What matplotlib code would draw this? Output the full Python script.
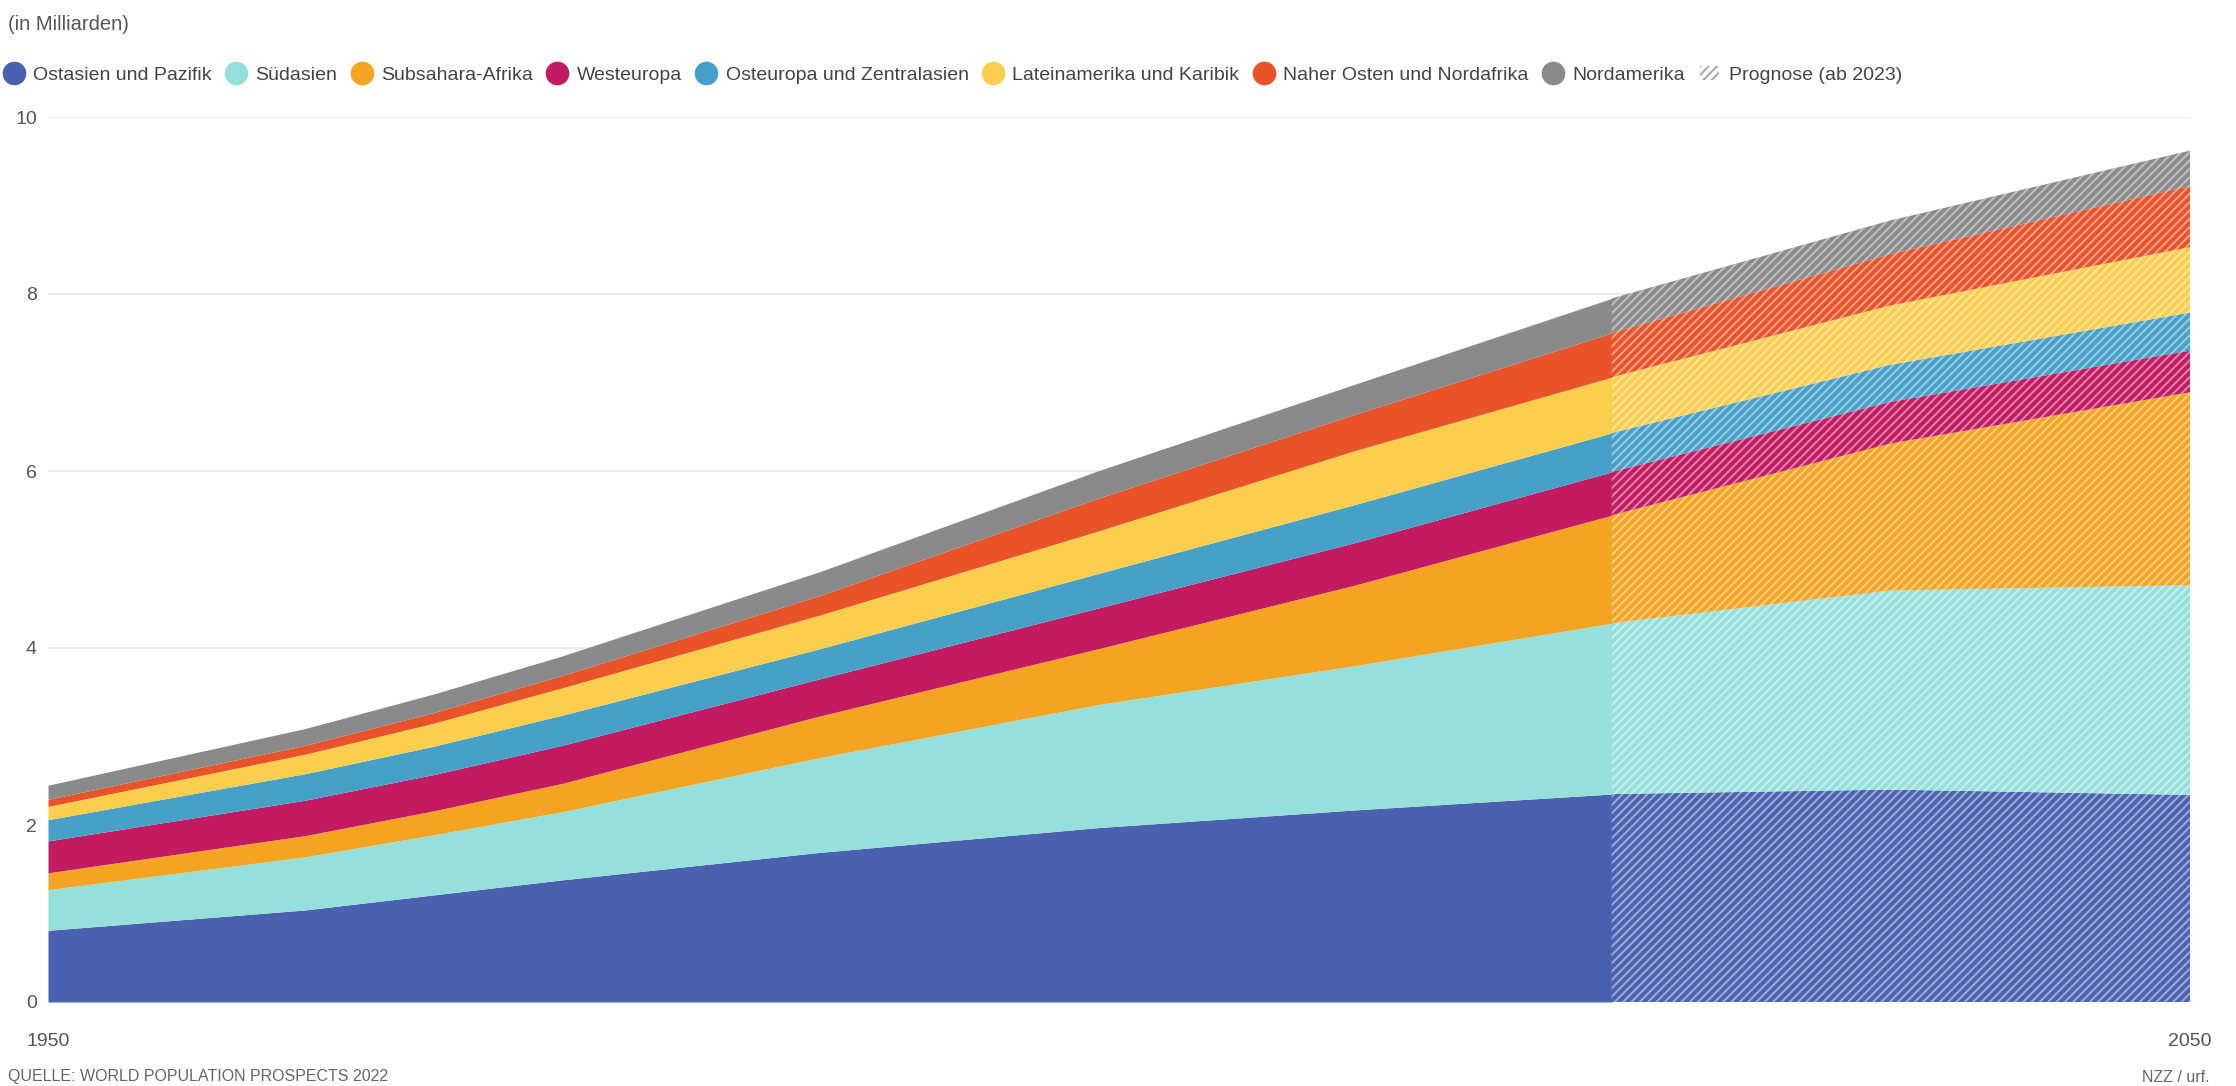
import numpy as np
import matplotlib.pyplot as plt
from matplotlib.lines import Line2D
from matplotlib.patches import Patch

plt.rcParams['font.family'] = ['Liberation Sans Narrow', 'Liberation Sans', 'DejaVu Sans']
plt.rcParams['hatch.linewidth'] = 1.5

# Bevölkerung nach Region, in Milliarden
years = [1950, 1962, 1968, 1974, 1986, 1999, 2011, 2023, 2036, 2050]
ostasien = [0.81, 1.04, 1.21, 1.38, 1.69, 1.97, 2.17, 2.35, 2.40, 2.34]
suedasien = [0.46, 0.60, 0.68, 0.77, 1.07, 1.39, 1.63, 1.93, 2.25, 2.37]
subsahara = [0.19, 0.24, 0.27, 0.32, 0.47, 0.63, 0.91, 1.22, 1.66, 2.18]
westeuropa = [0.36, 0.40, 0.41, 0.43, 0.42, 0.46, 0.48, 0.49, 0.47, 0.47]
osteuropa = [0.24, 0.30, 0.32, 0.34, 0.34, 0.39, 0.43, 0.44, 0.42, 0.43]
lateinamerika = [0.15, 0.22, 0.26, 0.31, 0.38, 0.48, 0.61, 0.63, 0.67, 0.74]
naher_osten = [0.08, 0.10, 0.12, 0.14, 0.22, 0.37, 0.41, 0.50, 0.58, 0.69]
nordamerika = [0.16, 0.19, 0.21, 0.22, 0.27, 0.31, 0.34, 0.39, 0.38, 0.40]

labels = ['Ostasien und Pazifik', 'Südasien', 'Subsahara-Afrika', 'Westeuropa',
          'Osteuropa und Zentralasien', 'Lateinamerika und Karibik',
          'Naher Osten und Nordafrika', 'Nordamerika']
colors = ['#4a61b0', '#96e0dc', '#f2a422', '#c21b62',
          '#47a0c8', '#fbcf4d', '#e9532a', '#8a8a8a']
forecast_start = 2023

series = np.array([ostasien, suedasien, subsahara, westeuropa,
                   osteuropa, lateinamerika, naher_osten, nordamerika])
x = np.array(years)
tops = np.cumsum(series, axis=0)
bottoms = np.vstack([np.zeros(len(x)), tops[:-1]])

fig = plt.figure(figsize=(22.36, 10.86), dpi=100)
ax = fig.add_axes([48 / 2236, 84 / 1086, 2142 / 2236, 885 / 1086])

past = x <= forecast_start
future = x >= forecast_start
for i in range(len(labels)):
    ax.fill_between(x[past], bottoms[i][past], tops[i][past],
                    color=colors[i], linewidth=0, zorder=2)
    ax.fill_between(x[future], bottoms[i][future], tops[i][future],
                    facecolor=colors[i], edgecolor=(1, 1, 1, 0.45),
                    hatch='////', linewidth=0, zorder=2)

ax.set_xlim(1950, 2050)
ax.set_ylim(0, 10)
ax.set_yticks(range(0, 11, 2))
ax.set_xticks([1950, 2050])
ax.grid(axis='y', color='#e8e8e8', linewidth=1.2, zorder=0)
ax.set_axisbelow(True)
for s in ax.spines.values():
    s.set_visible(False)
ax.tick_params(axis='both', length=0, labelsize=14, labelcolor='#555555')
ax.tick_params(axis='y', pad=8)
ax.tick_params(axis='x', pad=22)

fig.text(8 / 2236, 1 - 25 / 1086, '(in Milliarden)', fontsize=14.5,
         color='#555555', va='center', ha='left')

handles = [Line2D([], [], marker='o', linestyle='', markersize=16,
                  markerfacecolor=c, markeredgecolor=c) for c in colors]
handles.append(Patch(facecolor='white', edgecolor='#aaaaaa', hatch='////',
                     linewidth=0))
fig.legend(handles, labels + ['Prognose (ab 2023)'], ncol=9, frameon=False,
           loc='center left', bbox_to_anchor=(0.0, 1 - 75 / 1086),
           fontsize=14, handletextpad=0.5, columnspacing=0.75,
           handlelength=1.0, borderaxespad=0, borderpad=0.2,
           labelcolor='#444444')

fig.text(8 / 2236, 1 - 1077 / 1086, 'QUELLE: WORLD POPULATION PROSPECTS 2022',
         fontsize=11.5, color='#666666', va='center', ha='left')
fig.text(2210 / 2236, 1 - 1077 / 1086, 'NZZ / urf.',
         fontsize=11.5, color='#666666', va='center', ha='right')

fig.savefig('out.png', dpi=100, facecolor='white')
